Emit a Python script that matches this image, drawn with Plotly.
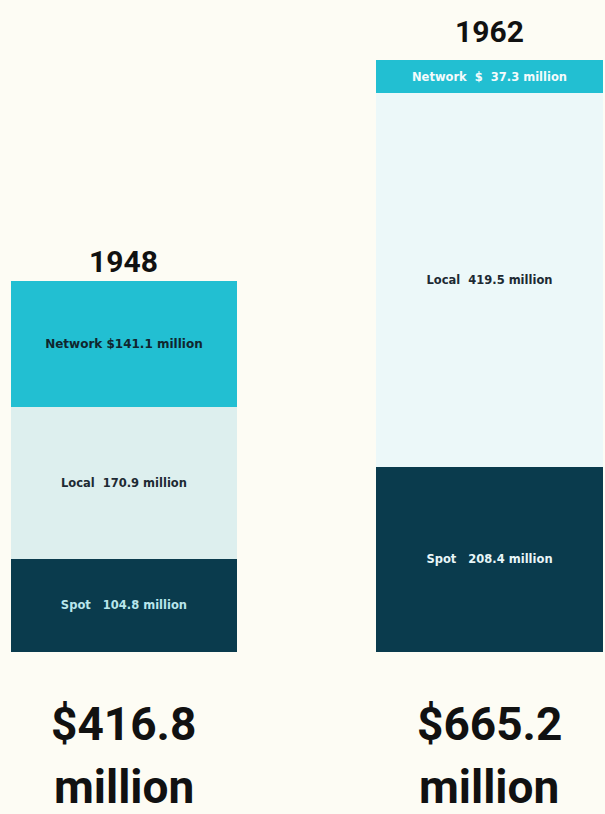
import plotly.graph_objects as go

years = ["1948", "1962"]
spot = [104.8, 208.4]
local = [170.9, 419.5]
network = [141.1, 37.3]
totals = [416.8, 665.2]

BG = "#fdfcf4"
TEAL = "#22bfd2"
DARK = "#0a3b4d"
LOCAL_COLORS = ["#ddefee", "#ecf8f9"]
COND = "Roboto, Liberation Sans, sans-serif"
SANS = "DejaVu Sans, Liberation Sans, sans-serif"
YEAR_SHIFTS = [0, 9]

spot_text = [f"<b>Spot   {v} million</b>" for v in spot]
local_text = [f"<b>Local  {v} million</b>" for v in local]
network_text = [f"<b>Network ${v} million</b>" if v >= 100 else f"<b>Network  $  {v} million</b>" for v in network]

xpos = list(range(len(years)))

fig = go.Figure()
bar_common = dict(width=0.62, textposition="inside", insidetextanchor="middle",
                  constraintext="none", marker_line_width=0, hoverinfo="skip")
fig.add_trace(go.Bar(x=xpos, y=spot, name="Spot", text=spot_text,
                     marker_color=DARK,
                     textfont=dict(family=SANS, size=11.5, color=["#b9e6ec", "#e8f6f8"]),
                     **bar_common))
fig.add_trace(go.Bar(x=xpos, y=local, name="Local", text=local_text,
                     marker_color=LOCAL_COLORS,
                     textfont=dict(family=SANS, size=11.5, color="#1d2a33"),
                     **bar_common))
fig.add_trace(go.Bar(x=xpos, y=network, name="Network", text=network_text,
                     marker_color=TEAL,
                     textfont=dict(family=SANS, size=[12, 11.5], color=["#10262e", "#f4fbfc"]),
                     **bar_common))

annotations = []
for i, (yr, tot) in enumerate(zip(years, totals)):
    annotations.append(dict(x=i, y=tot, xref="x", yref="y", text=f"<b>{yr}</b>",
                            showarrow=False, yanchor="bottom", yshift=YEAR_SHIFTS[i],
                            font=dict(family=COND, size=30, color="#111111")))
    annotations.append(dict(x=i, y=0, xref="x", yref="y", text=f"<b>${tot}</b>",
                            showarrow=False, yanchor="middle", yshift=-72,
                            font=dict(family=COND, size=46, color="#111111")))
    annotations.append(dict(x=i, y=0, xref="x", yref="y", text="<b>million</b>",
                            showarrow=False, yanchor="middle", yshift=-135,
                            font=dict(family=COND, size=46, color="#111111")))

fig.update_layout(
    barmode="stack",
    width=605, height=814,
    margin=dict(l=0, r=0, t=0, b=0),
    paper_bgcolor=BG, plot_bgcolor=BG,
    showlegend=False,
    annotations=annotations,
    xaxis=dict(range=[-0.339, 1.316], visible=False),
    yaxis=dict(range=[-182, 732.6], visible=False),
)
fig.write_html("out.html", config={"displayModeBar": False},
               post_script="document.body.style.margin='0';document.body.style.background='%s';" % BG)
